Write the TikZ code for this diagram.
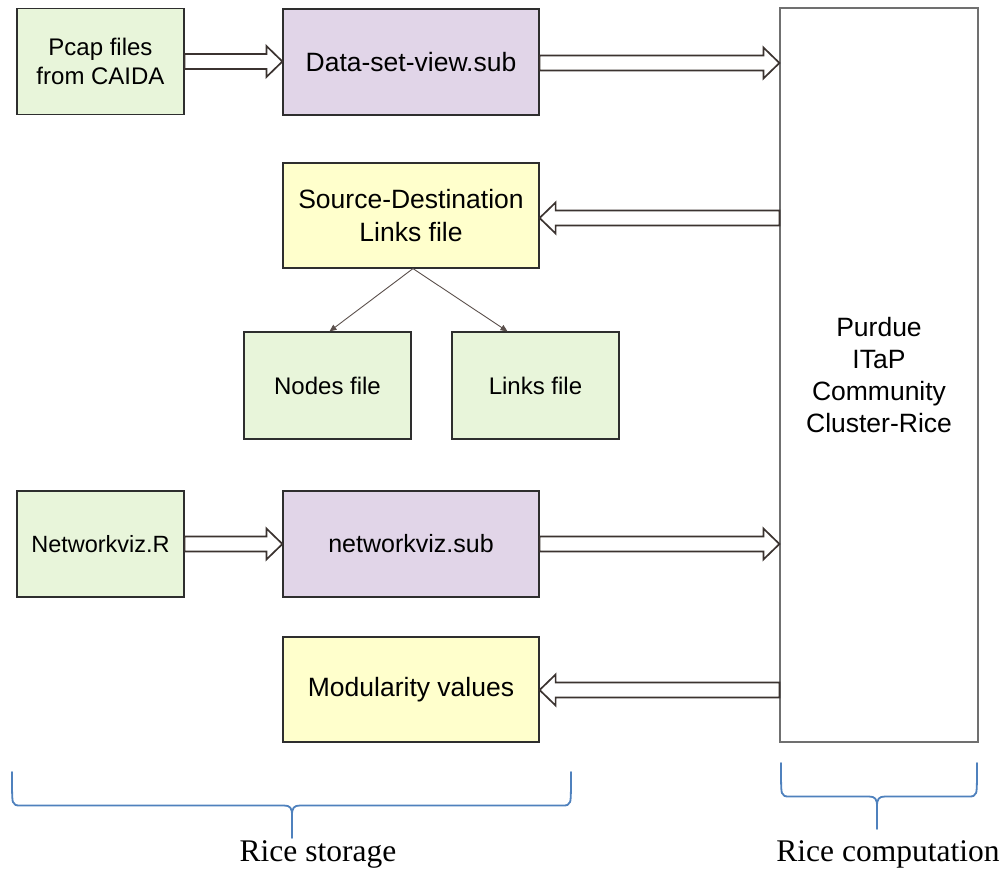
\documentclass[tikz,border=0pt]{standalone}
\usepackage{fontspec}
\setmainfont{Liberation Sans}
\newfontfamily\timesfont{Liberation Serif}
\usetikzlibrary{arrows.meta,calc}

\definecolor{boxgreen}{HTML}{E8F5DA}
\definecolor{boxpurple}{HTML}{E1D5E8}
\definecolor{boxyellow}{HTML}{FFFFCC}
\definecolor{boxline}{HTML}{2E2E2E}
\definecolor{clusterline}{HTML}{707070}
\definecolor{arrline}{HTML}{3B3330}
\definecolor{thinline}{HTML}{5B504C}
\definecolor{braceblue}{HTML}{4F81BD}

\tikzset{
  box/.style={draw=boxline, line width=1.2pt, rectangle, align=center,
              inner sep=0pt, text=black},
  greenbox/.style={box, fill=boxgreen, minimum width=167pt, minimum height=106pt},
  purplebox/.style={box, fill=boxpurple, minimum width=256pt, minimum height=106pt},
  yellowbox/.style={box, fill=boxyellow, minimum width=256pt, minimum height=105pt},
  blockarr/.style={draw=arrline, fill=white, line width=1.7pt, line join=miter},
  thinarr/.style={draw=thinline, line width=0.9pt,
                  -{Triangle[length=7pt,width=6pt]}},
  brace/.style={draw=braceblue, line width=1.8pt, line cap=round},
  bracelabel/.style={font=\timesfont\fontsize{31.5}{34}\selectfont, text=black}
}

% hollow horizontal block arrow from #1 to #2 (taken at the height of #1)
\newcommand\blockarrow[2]{%
  \draw[blockarr] let \p1=#1, \p2=#2, \n1={sign(\x2-\x1)} in
    (\x1,{\y1+7.5pt}) -- ({\x2-\n1*16pt},{\y1+7.5pt}) -- ({\x2-\n1*16pt},{\y1+15.5pt})
    -- (\x2,\y1) -- ({\x2-\n1*16pt},{\y1-15.5pt}) -- ({\x2-\n1*16pt},{\y1-7.5pt})
    -- (\x1,{\y1-7.5pt}) -- cycle;}

\begin{document}
\begin{tikzpicture}[x=1pt,y=-1pt]
\useasboundingbox (0,0) rectangle (1004,869);

% right-hand compute cluster
\node[box, draw=clusterline, fill=white, minimum width=198pt, minimum height=734pt,
      font=\fontsize{26.5}{32}\selectfont] (rice) at (879,375)
      {Purdue\\ITaP\\Community\\Cluster-Rice};

% storage-side boxes
\node[greenbox, font=\fontsize{24}{29}\selectfont] (pcap) at (100.5,61.5)
      {Pcap files\\from CAIDA};
\node[purplebox, font=\fontsize{26.5}{32}\selectfont] (data) at (411,62)
      {Data-set-view.sub};
\node[yellowbox, font=\fontsize{26.5}{33}\selectfont] (sd) at (411,215.5)
      {Source-Destination\\Links file};
\node[greenbox, minimum height=107pt, font=\fontsize{24}{29}\selectfont] (nodes)
      at (327.5,385.5) {Nodes file};
\node[greenbox, minimum height=107pt, font=\fontsize{24}{29}\selectfont] (links)
      at (535.5,385.5) {Links file};
\node[greenbox, font=\fontsize{23.5}{29}\selectfont] (nviz) at (100.5,544)
      {Networkviz.R};
\node[purplebox, font=\fontsize{25}{30}\selectfont] (nsub) at (411,544)
      {networkviz.sub};
\node[yellowbox, font=\fontsize{26.5}{32}\selectfont] (mod) at (411,689.5)
      {Modularity values};

% block arrows
\blockarrow{(pcap.east)}{(data.west)}
\blockarrow{([yshift=-1pt]data.east)}{([yshift=-1pt]data.east -| rice.west)}
\blockarrow{([yshift=-2.5pt]sd.east -| rice.west)}{([yshift=-2.5pt]sd.east)}
\blockarrow{(nviz.east)}{(nsub.west)}
\blockarrow{(nsub.east)}{(nsub.east -| rice.west)}
\blockarrow{([yshift=-0.5pt]mod.east -| rice.west)}{([yshift=-0.5pt]mod.east)}

% split of the links file
\coordinate (split) at ([xshift=2pt]sd.south);
\coordinate (linksin) at ([xshift=-28pt]links.north);
\draw[thinarr] (split) -- ([xshift=2pt]nodes.north);
\draw[thinarr] (split) -- (linksin);

% braces
\coordinate (b1l) at (12,772);
\coordinate (b1r) at (571,772);
\coordinate (b1tip) at (292,838);
\draw[brace] (b1l) .. controls (12,790) and (12,800) .. (13,802)
  .. controls (14,805) and (16,805.5) .. (20,805.5) -- (284,805.5)
  .. controls (290,805.5) and (292,808) .. (292,815) -- (b1tip);
\draw[brace] (b1r) .. controls (571,790) and (571,800) .. (570,802)
  .. controls (569,805) and (567,805.5) .. (563,805.5) -- (300,805.5)
  .. controls (294,805.5) and (292,808) .. (292,815);
\node[bracelabel] (storage) at (318,854) {Rice storage};

\coordinate (b2l) at (781,763);
\coordinate (b2r) at (977,763);
\coordinate (b2tip) at (877,829);
\draw[brace] (b2l) .. controls (781,781) and (781,791) .. (782,793)
  .. controls (783,796) and (785,796.5) .. (789,796.5) -- (869,796.5)
  .. controls (875,796.5) and (877,799) .. (877,806) -- (b2tip);
\draw[brace] (b2r) .. controls (977,781) and (977,791) .. (976,793)
  .. controls (975,796) and (973,796.5) .. (969,796.5) -- (885,796.5)
  .. controls (879,796.5) and (877,799) .. (877,806);
\node[bracelabel] (compute) at (888,854) {Rice computation};
\end{tikzpicture}
\end{document}
